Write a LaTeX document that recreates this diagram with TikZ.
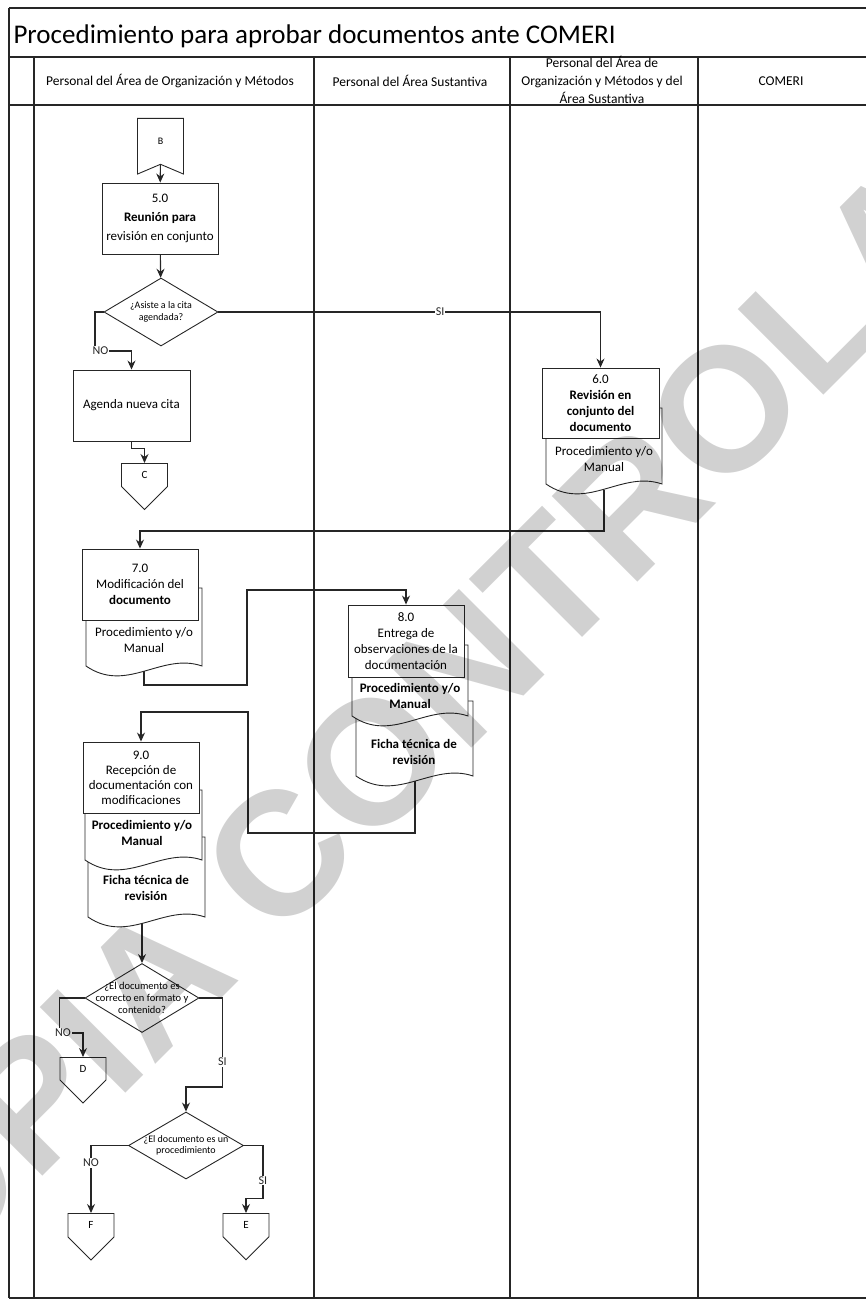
\documentclass[tikz,border=0pt]{standalone}
\usepackage{fontspec}
\setmainfont{Carlito}
\newfontfamily\wmfont{Liberation Sans}
\usetikzlibrary{shapes.geometric,shapes.symbols,arrows.meta,positioning}

\newcommand{\fsz}[2]{\fontsize{#1}{#2}\selectfont}
\newcommand{\docshape}[4]{%
  \draw [docline] (#1,#4) -- (#1,#2) -- (#3,#2) -- (#3,#4)
    .. controls ({#1+0.65*(#3-#1)},{#4-14}) and ({#1+0.35*(#3-#1)},{#4+28}) .. (#1,#4) -- cycle;}

\tikzset{
  lane/.style={line width=1.2pt, black!85},
  docline/.style={line width=0.9pt, draw=black!85, fill=white},
  proc/.style={draw=black!85, line width=0.9pt, fill=white, minimum width=116pt,
    minimum height=71pt, text width=114pt, align=flush center, inner sep=1pt, font=\fsz{13}{16}},
  doctext/.style={align=flush center, font=\fsz{13}{15.5}},
  decision/.style={draw=black!85, diamond, line width=0.9pt, minimum width=114pt,
    minimum height=68pt, inner sep=0pt},
  dtext/.style={align=flush center, font=\fsz{10}{11.5}},
  offpage/.style={draw=black!85, signal, signal to=south, signal from=nowhere,
    line width=0.9pt, minimum width=46pt, minimum height=26pt, inner sep=0pt, font=\fsz{11}{11}},
  flow/.style={line width=1.1pt, black!85, -{Stealth[length=9pt,width=8pt]}},
  lbl/.style={fill=white, inner sep=1pt, font=\fsz{12}{12}},
  hdr/.style={align=flush center, font=\fsz{13.5}{18}},
}

\begin{document}
\begin{tikzpicture}[x=1pt,y=-1pt]
\useasboundingbox (0,0) rectangle (865,1303);

\draw [lane] (9,8) -- (866,8);
\draw [lane] (9,57) -- (866,57);
\draw [lane] (9,105) -- (866,105);
\draw [lane] (9,1298) -- (866,1298);
\draw [lane] (9,8) -- (9,1298);
\draw [lane] (34,57) -- (34,1298);
\draw [lane] (314,57) -- (314,1298);
\draw [lane] (510,57) -- (510,1298);
\draw [lane] (698,57) -- (698,1298);

\node [anchor=west, font=\fsz{27}{27}] (title) at (10,36) {Procedimiento para aprobar documentos ante COMERI};
\node [hdr] (h1) at (170,81) {Personal del Área de Organización y Métodos};
\node [hdr] (h2) at (410,81) {Personal del Área Sustantiva};
\node [hdr] (h3) at (602,80) {Personal del Área de\\Organización y Métodos y del\\Área Sustantiva};
\node [hdr] (h4) at (781,81) {COMERI};

\node [offpage, signal to=nowhere, signal from=south, signal pointer angle=134,
  minimum height=47pt, anchor=north, font=\fsz{10}{10}] (B) at (160.5,118) {B};
\node [proc, font=\fsz{13}{19}] (r5) at (160,218.5) {5.0\\\textbf{Reunión para}\\revisión en conjunto};
\node [decision, label={[dtext]center:{¿Asiste a la cita\\agendada?}}] (d1) at (161,312) {};
\node [proc, minimum width=117pt] (rA) at (131.5,405.5) {Agenda nueva cita};
\node [offpage, anchor=north] (C) at (144.5,463) {C};

\docshape{546}{408}{662}{484}
\node [proc, minimum width=117pt, minimum height=70pt] (r6) at (600.5,403) {6.0\\\textbf{Revisión en}\\\textbf{conjunto del}\\\textbf{documento}};
\node [doctext] (d6) at (604,459) {Procedimiento y/o\\Manual};
\coordinate (d6b) at (604,490);

\docshape{86}{588}{202}{666}
\node [proc] (r7) at (140,584.5) {7.0\\Modificación del\\\textbf{documento}};
\node [doctext] (d7) at (144,640) {Procedimiento y/o\\Manual};
\coordinate (d7b) at (144,671);

\docshape{356}{701}{473}{776}
\docshape{352}{645}{468}{716}
\node [proc, minimum height=72pt] (r8) at (406,641) {8.0\\Entrega de\\observaciones de la\\documentación};
\node [doctext] (d8a) at (410,696) {\textbf{Procedimiento y/o}\\\textbf{Manual}};
\node [doctext] (d8b) at (414,752) {\textbf{Ficha técnica de}\\\textbf{revisión}};
\coordinate (d8c) at (415,781);

\docshape{88}{837}{205}{917}
\docshape{85}{790}{202}{860}
\node [proc, font=\fsz{13}{15}] (r9) at (141,777.5) {9.0\\Recepción de\\documentación con\\modificaciones};
\node [doctext] (d9a) at (142,833) {\textbf{Procedimiento y/o}\\\textbf{Manual}};
\node [doctext] (d9b) at (146,888) {\textbf{Ficha técnica de}\\\textbf{revisión}};
\coordinate (d9c) at (142,923);

\node [decision, minimum height=69pt, label={[dtext, font=\fsz{10.5}{12}]center:{¿El documento es\\correcto en formato y\\contenido?}}] (d2) at (142,998) {};
\node [offpage, anchor=north] (D) at (83,1057) {D};
\node [decision, minimum width=115pt, minimum height=67pt, label={[dtext]center:{¿El documento es un\\procedimiento}}] (d3) at (186,1145.5) {};
\node [offpage, anchor=north] (F) at (91,1213) {F};
\node [offpage, anchor=north] (E) at (246,1213) {E};

\draw [flow] (B) -- (r5);
\draw [flow] (r5) -- (d1);
\draw [flow] (d1.east) -| node [lbl, pos=0.29] (si1) {SI} (r6.north);
\draw [flow] (d1.west) -| (95,351) node [lbl, anchor=west, xshift=-4pt] (no1) {NO} -| (rA.north);
\draw [flow] (rA.south) -- ++(0,7) -| (C.north);
\draw [flow] (d6b) -- ++(0,41) -| (r7.north);
\draw [flow] (d7b) -- ++(0,14) -- ++(103,0) -- ++(0,-95) -| (r8.north);
\draw [flow] (d8c) -- ++(0,52) -- ++(-167,0) -- ++(0,-121) -| (r9.north);
\draw [flow] (d9c) -- (d2.north);
\draw [flow] (d2.west) -- ++(-25,0) -- ++(0,35) node [lbl, anchor=west, xshift=-6pt] (no2) {NO} -| (D.north);
\draw [flow] (d2.east) -- ++(23,0) -- ++(0,89) node [lbl, pos=0.72] (si2) {SI} -| (d3.north);
\draw [flow] (d3.west) -| node [lbl, pos=0.63] (no3) {NO} (F.north);
\draw [flow] (d3.east) -- ++(19,0) -- ++(0,53) node [lbl, pos=0.66] (si3) {SI} -| (E.north);

\node [rotate=45, text=black, text opacity=0.18, font=\wmfont\bfseries\fsz{176}{176}] (wm) at (462,672) {COPIA CONTROLADA};
\end{tikzpicture}
\end{document}
